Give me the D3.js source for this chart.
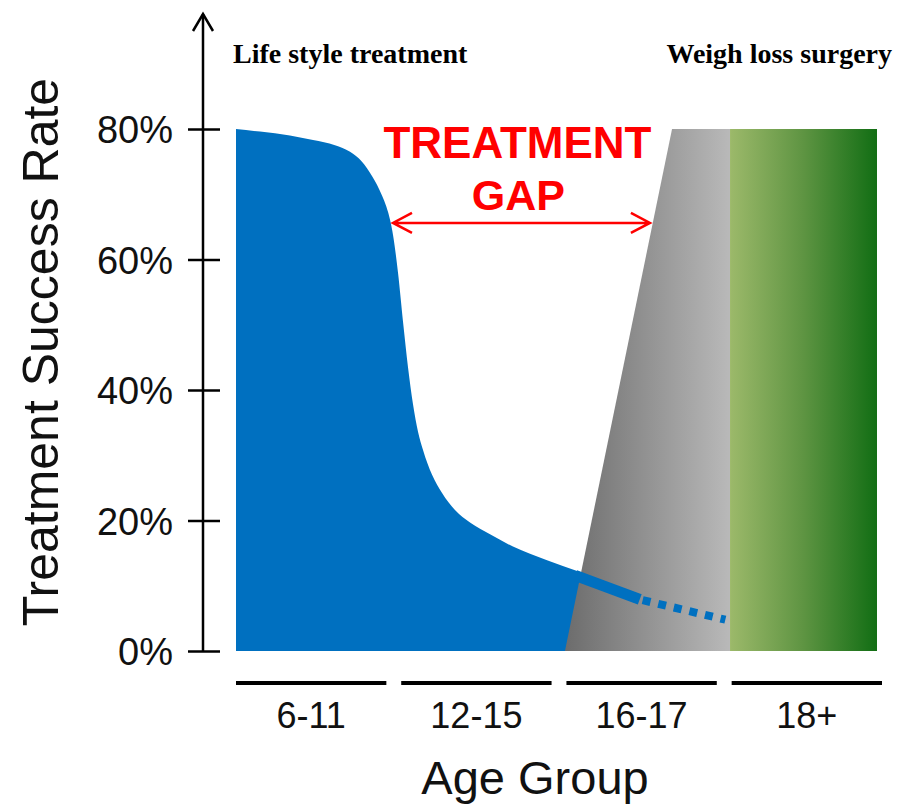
<!DOCTYPE html>
<html>
<head>
<meta charset="utf-8">
<script src="https://cdn.jsdelivr.net/npm/d3@7"></script>
<style>
  html, body { margin: 0; padding: 0; background: #fff; }
  svg { display: block; }
</style>
</head>
<body>
<div class="container"></div>
<script>
const ageGroups = ['6-11', '12-15', '16-17', '18+']
const rateTicks = [0, 20, 40, 60, 80]

// lifestyle treatment success; position in age-group units (0 = start of 6-11)
const lifestylePos = [0, 0.149, 0.334, 0.477, 0.613, 0.706, 0.78, 0.842, 0.904, 0.941, 0.972, 1.003, 1.034, 1.065, 1.096, 1.127, 1.158, 1.214, 1.276, 1.356, 1.449, 1.573, 1.715, 1.926, 2.13]
const lifestyleRate = [80, 79.6, 79.0, 78.3, 77.5, 76.5, 75.0, 72.8, 69.8, 67.3, 63.8, 58.0, 50.5, 43.5, 37.8, 33.6, 30.8, 27.0, 24.2, 21.6, 19.7, 17.9, 16.0, 13.9, 12.1]
const lifestyleTailPos = [2.1, 2.5]
const lifestyleTailRate = [11.6, 7.9]
const lifestyleProjPos = [2.5, 3.03]
const lifestyleProjRate = [7.9, 4.8]

// weight loss surgery
const surgeryRampPos = [2.037, 2.7, 3.059, 3.059]
const surgeryRampRate = [0, 80, 80, 0]
const surgeryPos = [3.059, 3.969]
const surgeryRate = 80

// treatment gap arrow
const gapPos = [0.972, 2.563]
const gapRate = 65.6

document.addEventListener('DOMContentLoaded', function () {
  const width = 898
  const height = 810
  const sans = 'Liberation Sans, Arial, Helvetica, sans-serif'
  const serif = 'Liberation Serif, Times New Roman, serif'

  const svg = d3
    .select('.container')
    .append('svg')
    .attr('width', width)
    .attr('height', height)

  const x = d3.scaleLinear().domain([0, 4]).range([236, 882])
  const y = d3.scaleLinear().domain([0, 80]).range([651, 129])
  const band = d3.scaleBand().domain(ageGroups).range([236, 882]).paddingInner(0.09)

  const defs = svg.append('defs')

  const grey = defs
    .append('linearGradient')
    .attr('id', 'grey-grad')
    .attr('gradientUnits', 'userSpaceOnUse')
    .attr('x1', x(surgeryRampPos[0]))
    .attr('x2', x(surgeryRampPos[2]))
    .attr('y1', 0)
    .attr('y2', 0)
  grey.append('stop').attr('offset', '0%').attr('stop-color', '#6c6c6c')
  grey.append('stop').attr('offset', '100%').attr('stop-color', '#b9b9b9')

  const green = defs
    .append('linearGradient')
    .attr('id', 'green-grad')
    .attr('x1', '0%')
    .attr('x2', '100%')
    .attr('y1', '0%')
    .attr('y2', '0%')
  green.append('stop').attr('offset', '0%').attr('stop-color', '#9cb96a')
  green.append('stop').attr('offset', '50%').attr('stop-color', '#5e9442')
  green.append('stop').attr('offset', '100%').attr('stop-color', '#126e14')

  // blue lifestyle area
  const lifestyle = lifestylePos.map((p, i) => ({ p, r: lifestyleRate[i] }))
  const area = d3
    .area()
    .x((d) => x(d.p))
    .y0(y(0))
    .y1((d) => y(d.r))
    .curve(d3.curveMonotoneX)

  svg
    .append('path')
    .datum(lifestyle)
    .attr('d', area)
    .attr('fill', '#0070c0')

  // grey ramp
  const ramp = surgeryRampPos.map((p, i) => [x(p), y(surgeryRampRate[i])])
  svg
    .append('path')
    .attr('d', 'M' + ramp.join('L') + 'Z')
    .attr('fill', 'url(#grey-grad)')

  // green block
  svg
    .append('rect')
    .attr('x', x(surgeryPos[0]))
    .attr('y', y(surgeryRate))
    .attr('width', x(surgeryPos[1]) - x(surgeryPos[0]))
    .attr('height', y(0) - y(surgeryRate))
    .attr('fill', 'url(#green-grad)')

  const line = d3
    .line()
    .x((d) => x(d[0]))
    .y((d) => y(d[1]))

  svg
    .append('path')
    .datum(lifestyleTailPos.map((p, i) => [p, lifestyleTailRate[i]]))
    .attr('d', line)
    .attr('fill', 'none')
    .attr('stroke', '#0070c0')
    .attr('stroke-width', 11)

  svg
    .append('path')
    .datum(lifestyleProjPos.map((p, i) => [p, lifestyleProjRate[i]]))
    .attr('d', line)
    .attr('fill', 'none')
    .attr('stroke', '#0070c0')
    .attr('stroke-width', 8)
    .attr('stroke-dasharray', '8,8')
    .attr('stroke-dashoffset', -3)

  // y axis
  const yAxis = d3
    .axisLeft(y)
    .tickValues(rateTicks)
    .tickFormat((d) => d + '%')
    .tickSize(15)
    .tickPadding(15)
    .tickSizeOuter(0)

  const gy = svg.append('g').attr('transform', 'translate(203,0)').call(yAxis)
  gy.select('.domain').remove()
  gy.selectAll('.tick line')
    .attr('x1', 17)
    .attr('x2', -15)
    .attr('stroke', '#000')
    .attr('stroke-width', 2.5)
  gy.selectAll('.tick text')
    .attr('font-family', sans)
    .attr('font-size', 38)
    .attr('dy', '0.36em')
    .attr('fill', '#111')

  svg
    .append('line')
    .attr('x1', 203)
    .attr('x2', 203)
    .attr('y1', y(0))
    .attr('y2', 14)
    .attr('stroke', '#000')
    .attr('stroke-width', 2.5)
  svg
    .append('path')
    .attr('d', 'M193,31L203,14L213,31')
    .attr('fill', 'none')
    .attr('stroke', '#000')
    .attr('stroke-width', 2.5)

  svg
    .append('text')
    .attr('transform', 'translate(58,352) rotate(-90)')
    .attr('text-anchor', 'middle')
    .attr('font-family', sans)
    .attr('font-size', 50)
    .attr('fill', '#111')
    .text('Treatment Success Rate')

  // age group bars
  svg
    .selectAll('.group-bar')
    .data(ageGroups)
    .enter()
    .append('line')
    .attr('class', 'group-bar')
    .attr('x1', (d) => band(d))
    .attr('x2', (d) => band(d) + band.bandwidth())
    .attr('y1', 683)
    .attr('y2', 683)
    .attr('stroke', '#000')
    .attr('stroke-width', 4)

  svg
    .selectAll('.group-label')
    .data(ageGroups)
    .enter()
    .append('text')
    .attr('class', 'group-label')
    .attr('x', (d) => band(d) + band.bandwidth() / 2)
    .attr('y', 728)
    .attr('text-anchor', 'middle')
    .attr('font-family', sans)
    .attr('font-size', 36)
    .attr('fill', '#111')
    .text((d) => d)

  svg
    .append('text')
    .attr('x', 535)
    .attr('y', 794)
    .attr('text-anchor', 'middle')
    .attr('font-family', sans)
    .attr('font-size', 47)
    .attr('fill', '#111')
    .text('Age Group')

  // headers
  svg
    .append('text')
    .attr('x', 233)
    .attr('y', 63)
    .attr('font-family', serif)
    .attr('font-weight', 'bold')
    .attr('font-size', 28)
    .attr('fill', '#000')
    .text('Life style treatment')

  svg
    .append('text')
    .attr('x', 892)
    .attr('y', 63)
    .attr('text-anchor', 'end')
    .attr('font-family', serif)
    .attr('font-weight', 'bold')
    .attr('font-size', 28)
    .attr('fill', '#000')
    .text('Weigh loss surgery')

  // treatment gap annotation
  const gapMid = (gapPos[0] + gapPos[1]) / 2
  svg
    .append('text')
    .attr('x', x(gapMid) - 4)
    .attr('y', 158)
    .attr('text-anchor', 'middle')
    .attr('font-family', sans)
    .attr('font-weight', 'bold')
    .attr('font-size', 44)
    .attr('fill', '#f00')
    .text('TREATMENT')
  svg
    .append('text')
    .attr('x', x(gapMid) - 3)
    .attr('y', 210)
    .attr('text-anchor', 'middle')
    .attr('font-family', sans)
    .attr('font-weight', 'bold')
    .attr('font-size', 43)
    .attr('fill', '#f00')
    .text('GAP')

  const ax0 = x(gapPos[0])
  const ax1 = x(gapPos[1])
  const ay = y(gapRate)
  svg
    .append('path')
    .attr(
      'd',
      `M${ax0},${ay}L${ax1},${ay}` +
        `M${ax0 + 19},${ay - 10}L${ax0},${ay}L${ax0 + 19},${ay + 10}` +
        `M${ax1 - 19},${ay - 10}L${ax1},${ay}L${ax1 - 19},${ay + 10}`
    )
    .attr('fill', 'none')
    .attr('stroke', '#f00')
    .attr('stroke-width', 2.5)
})
</script>
</body>
</html>
